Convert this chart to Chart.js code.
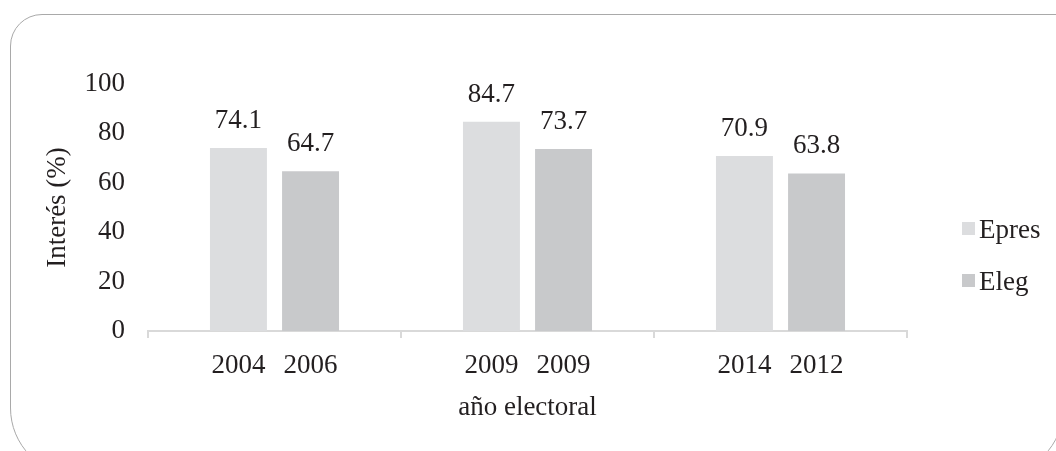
<!DOCTYPE html>
<html>
<head>
<meta charset="utf-8">
<script src="https://cdn.jsdelivr.net/npm/chart.js@4"></script>
<style>
  html, body { margin: 0; padding: 0; background: #fff; }
  #wrap { position: relative; width: 1056px; height: 451px; overflow: hidden; }
  #frame {
    position: absolute; left: 10px; top: 14px;
    width: 1054px; height: 462px;
    border: 1.5px solid #a9a9a9;
    border-radius: 32px 6px 68px 68px;
    box-sizing: border-box;
  }
  canvas { position: absolute; left: 0; top: 0; }
</style>
</head>
<body>
<div id="wrap">
  <div id="frame"></div>
  <canvas id="chart" width="1056" height="451"></canvas>
</div>
<script>
const groups = ['2004 / 2006', '2009 / 2009', '2014 / 2012'];
const epresYears = ['2004', '2009', '2014'];
const elegYears = ['2006', '2009', '2012'];
const epresValues = [74.1, 84.7, 70.9];
const elegValues = [64.7, 73.7, 63.8];
const yTicks = [0, 20, 40, 60, 80, 100];

const textColor = '#231f20';
const serif = '"Liberation Serif", "Times New Roman", serif';
const fontSize = 27;
const seriesColors = ['#dcdddf', '#c8c9cb'];
const seriesNames = ['Epres', 'Eleg'];

// value labels above bars and the year under each bar
const barText = {
    id: 'barText',
    afterDatasetsDraw(chart) {
        const ctx = chart.ctx;
        const years = [epresYears, elegYears];
        ctx.save();
        ctx.fillStyle = textColor;
        ctx.font = fontSize + 'px ' + serif;
        ctx.textAlign = 'center';
        ctx.textBaseline = 'alphabetic';
        chart.data.datasets.forEach((ds, di) => {
            const meta = chart.getDatasetMeta(di);
            meta.data.forEach((bar, i) => {
                ctx.fillText(ds.data[i].toFixed(1), bar.x, bar.y - 20);
                ctx.fillText(years[di][i], bar.x, chart.chartArea.bottom + 42);
            });
        });
        ctx.restore();
    }
};

// legend on the right
const sideLegend = {
    id: 'sideLegend',
    afterDraw(chart) {
        const ctx = chart.ctx;
        ctx.save();
        ctx.font = fontSize + 'px ' + serif;
        ctx.textBaseline = 'middle';
        ctx.textAlign = 'left';
        seriesNames.forEach((name, i) => {
            const y = 229 + i * 52;
            ctx.fillStyle = seriesColors[i];
            ctx.fillRect(962, y - 7, 13, 13);
            ctx.fillStyle = textColor;
            ctx.fillText(name, 979, y + 2);
        });
        ctx.restore();
    }
};

const ctx = document.getElementById('chart').getContext('2d');
const chart = new Chart(ctx, {
    type: 'bar',
    data: {
        labels: groups,
        datasets: [
            { label: seriesNames[0], data: epresValues, backgroundColor: seriesColors[0] },
            { label: seriesNames[1], data: elegValues, backgroundColor: seriesColors[1] }
        ]
    },
    options: {
        responsive: false,
        animation: false,
        events: [],
        categoryPercentage: 0.57,
        barPercentage: 0.79,
        layout: { padding: { left: 20, right: 149, top: 84, bottom: 0 } },
        plugins: {
            legend: { display: false },
            tooltip: { enabled: false }
        },
        scales: {
            x: {
                offset: true,
                afterFit: s => { s.height = 120; },
                ticks: { display: false },
                grid: {
                    offset: true,
                    drawOnChartArea: false,
                    drawTicks: true,
                    tickLength: 7,
                    color: '#d9d9d9',
                    lineWidth: 2
                },
                border: { display: true, color: '#d9d9d9', width: 2 },
                title: {
                    display: true,
                    text: 'año electoral',
                    color: textColor,
                    font: { family: serif, size: fontSize },
                    padding: { top: 0, bottom: 27 }
                }
            },
            y: {
                min: 0,
                max: 100,
                afterFit: s => { s.width = 128; },
                afterBuildTicks: s => { s.ticks = yTicks.map(v => ({ value: v })); },
                ticks: {
                    color: textColor,
                    padding: 15,
                    font: { family: serif, size: fontSize }
                },
                grid: { display: false },
                border: { display: false },
                title: {
                    display: true,
                    text: 'Interés (%)',
                    color: textColor,
                    font: { family: serif, size: fontSize },
                    padding: { top: 22, bottom: 0 }
                }
            }
        }
    },
    plugins: [barText, sideLegend]
});
</script>
</body>
</html>
